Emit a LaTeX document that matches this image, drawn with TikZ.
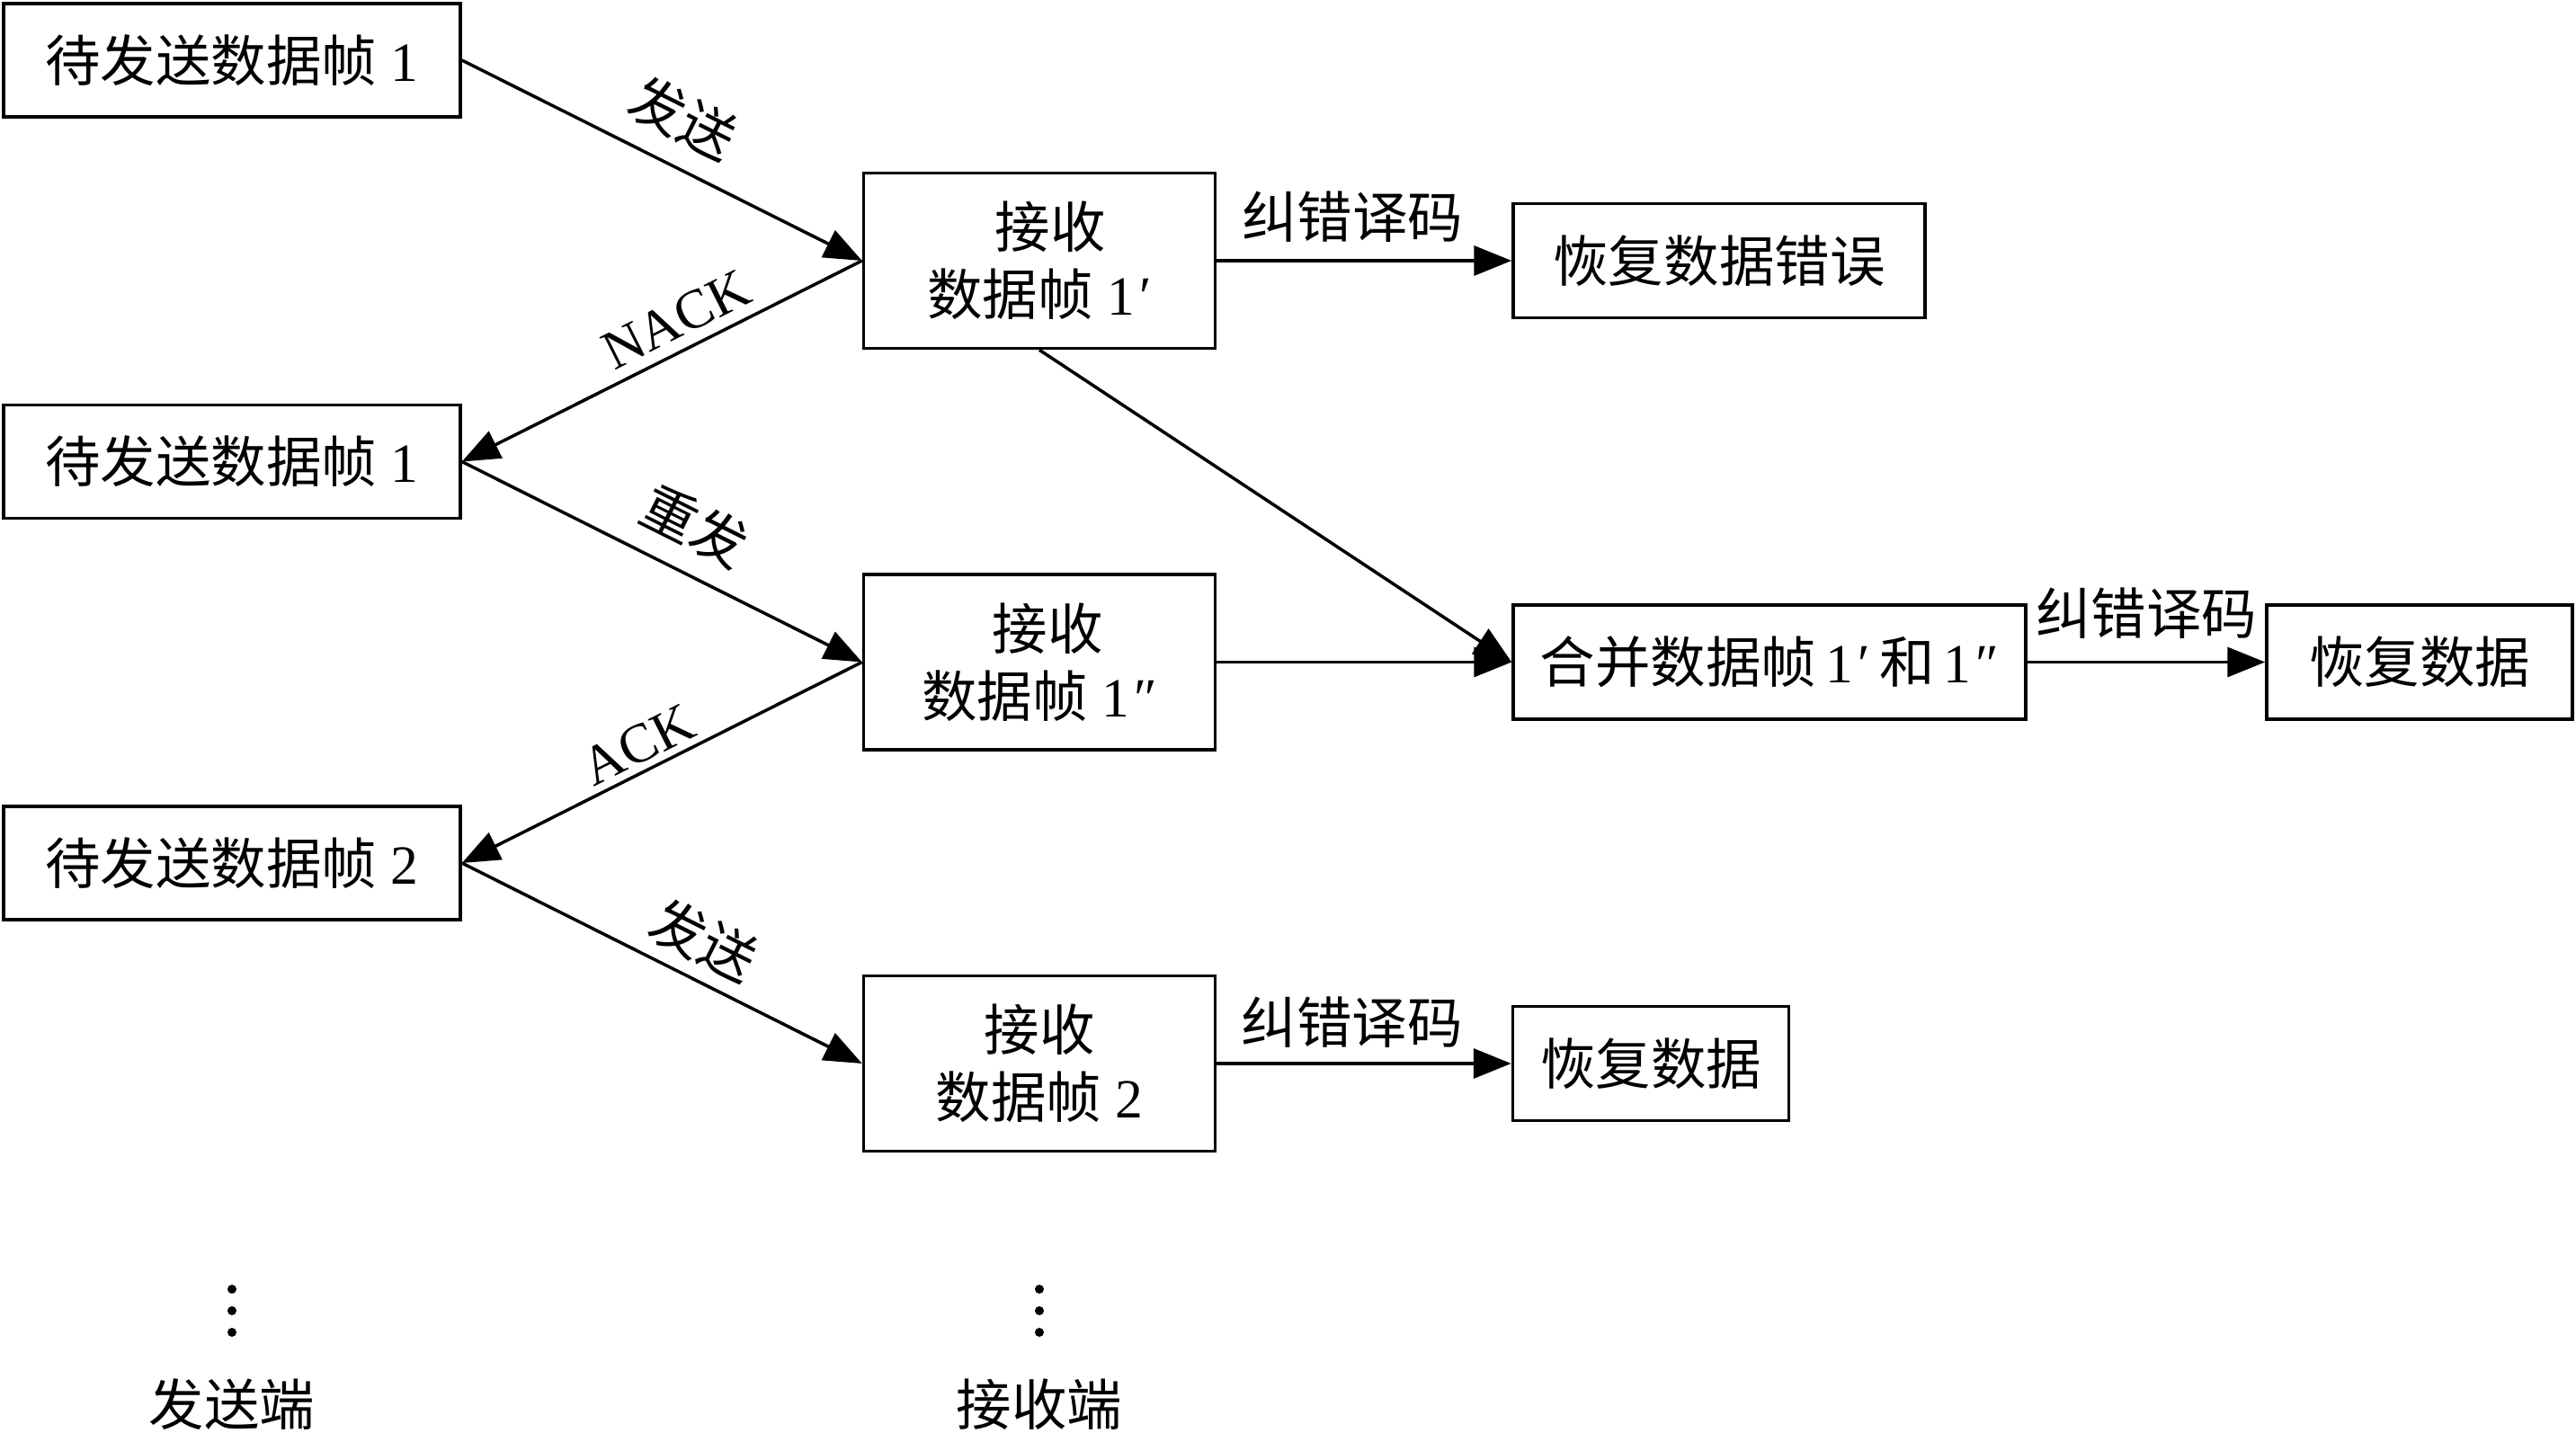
\documentclass[tikz,border=0pt]{standalone}
\usepackage{fontspec}
\setmainfont{Liberation Serif}
\newfontfamily\cjk{Noto Sans CJK SC}
\usetikzlibrary{%
  arrows.meta,
  positioning,
  calc
}
\tikzstyle{sendblock}=[draw, rectangle, line width=1pt, minimum width=5.08cm, minimum height=1.26cm]
\tikzstyle{recvblock}=[draw, rectangle, line width=1pt, minimum width=3.91cm, minimum height=1.95cm, align=center]
\tikzstyle{outblock}=[draw, rectangle, line width=1pt, minimum height=1.27cm]
\tikzstyle{link}=[-{Triangle[length=4.2mm,width=3.3mm]}, line width=1pt]
\tikzstyle{tag}=[above, sloped]
\tikzstyle{dots}=[coordinate]
\newcommand{\onep}{1\kern1.5pt′}
\newcommand{\twop}{1\kern1.5pt″}

\begin{document}
\begin{tikzpicture}[font=\fontsize{17.5}{21.3}\selectfont]
  \useasboundingbox (0,0) rectangle (28.65,-15.94);
  % sender side
  \node[sendblock] (send1) at (2.58,-0.67) {{\cjk 待发送数据帧} 1};
  \node[sendblock, below of=send1, node distance=4.465cm] (send2) {{\cjk 待发送数据帧} 1};
  \node[sendblock, below of=send2, node distance=4.465cm] (send3) {{\cjk 待发送数据帧} 2};
  % receiver side
  \node[recvblock] (recv1) at (11.56,-2.90) {\hspace*{0.4em}{\cjk 接收}\\{\cjk 数据帧} \onep};
  \node[recvblock, below of=recv1, node distance=4.465cm] (recv2) {\hspace*{0.3em}{\cjk 接收}\\{\cjk 数据帧} \twop};
  \node[recvblock, below of=recv2, node distance=4.465cm] (recv3) {{\cjk 接收}\\{\cjk 数据帧} 2};
  % results
  \node[outblock, minimum width=4.58cm, right of=recv1, node distance=7.56cm] (err1) {\cjk 恢复数据错误};
  \node[outblock, minimum width=5.70cm, right of=recv2, node distance=8.12cm] (merge) {{\cjk 合并数据帧}\,\onep\,{\cjk 和}\,\twop};
  \node[outblock, minimum width=3.40cm, right of=merge, node distance=7.23cm] (data1) {\cjk 恢复数据};
  \node[outblock, minimum width=3.07cm, right of=recv3, node distance=6.80cm] (data2) {\cjk 恢复数据};
  % dots and captions
  \node[dots, below of=send3, node distance=4.98cm] (sdots) {};
  \node[dots, below of=recv3, node distance=2.75cm] (rdots) {};
  \foreach \k in {-1,0,1} {
    \fill ($(sdots)+(0,\k*0.24)$) circle (0.05);
    \fill ($(rdots)+(0,\k*0.24)$) circle (0.05);
  }
  \node[below of=send3, node distance=6.02cm] (sendlabel) {\cjk 发送端};
  \node[below of=recv3, node distance=3.79cm] (recvlabel) {\cjk 接收端};
  % connections
  \draw[link] (send1.east) -- node[tag, pos=0.5, outer ysep=3.5pt] {\cjk 发送} (recv1.west);
  \draw[link] (recv1.west) -- node[tag, pos=0.43] {NACK} (send2.east);
  \draw[link] (send2.east) -- node[tag, pos=0.53, outer ysep=3.5pt] {\cjk 重发} (recv2.west);
  \draw[link] (recv2.west) -- node[tag, pos=0.53, inner sep=2pt] {ACK} (send3.east);
  \draw[link] (send3.east) -- node[tag, pos=0.56, outer ysep=1pt] {\cjk 发送} (recv3.west);
  \draw[link] (recv1.east) -- node[above, pos=0.46, outer ysep=2.5pt] {\cjk 纠错译码} (err1.west);
  \draw[link] (recv1.south) -- (merge.west);
  \draw[link] (recv2.east) -- (merge.west);
  \draw[link] (merge.east) -- node[above, outer ysep=4pt] {\cjk 纠错译码} (data1.west);
  \draw[link] (recv3.east) -- node[above, pos=0.46, outer ysep=1.5pt] {\cjk 纠错译码} (data2.west);
\end{tikzpicture}
\end{document}
